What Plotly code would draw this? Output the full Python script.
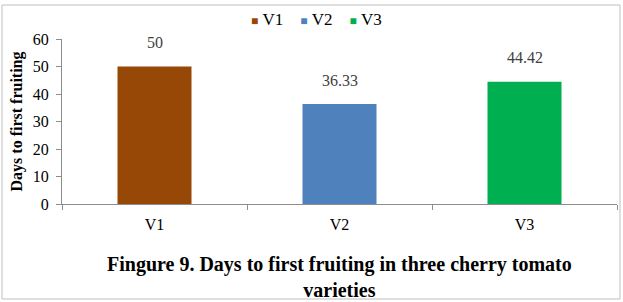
import plotly.graph_objects as go

categories = ["V1", "V2", "V3"]
values = [50, 36.33, 44.42]
value_labels = ["50", "36.33", "44.42"]
colors = ["#974706", "#4F81BD", "#00B050"]
y_ticks = [0, 10, 20, 30, 40, 50, 60]
y_title = "Days to first fruiting"
caption = "Fingure 9. Days to first fruiting in three cherry tomato<br>varieties"

FONT = "Liberation Serif, Times New Roman, serif"
W, H = 623, 302
ML, MR, MT, MB = 62, 6, 39, 98
pw, ph = W - ML - MR, H - MT - MB

fig = go.Figure()
for c, v, col in zip(categories, values, colors):
    fig.add_trace(go.Bar(x=[c], y=[v], name=c, marker=dict(color=col, line=dict(width=0)),
                         width=0.4, hoverinfo="skip", showlegend=False))

for c, v, lab in zip(categories, values, value_labels):
    fig.add_annotation(x=c, y=v, text=lab, showarrow=False, yanchor="middle", yshift=24,
                       font=dict(family=FONT, size=16, color="#404040"))

def px(x):
    return (x - ML) / pw

def py(y):
    return (H - MB - y) / ph

# outer border
fig.add_shape(type="rect", xref="paper", yref="paper", x0=px(2), x1=px(620), y0=py(299), y1=py(5),
              line=dict(color="#BFBFBF", width=1), layer="below")

# compact Excel-style legend built from the series names/colours
legend_text = "&nbsp;&nbsp;&nbsp;&nbsp;".join(
    "<span style='color:%s;font-size:12px'>■</span>&nbsp;%s" % (col, c)
    for c, col in zip(categories, colors))
fig.add_annotation(xref="paper", yref="paper", x=px(316), y=py(19), text=legend_text,
                   showarrow=False, xanchor="center", yanchor="middle",
                   font=dict(family=FONT, size=17, color="#000000"))

fig.add_annotation(xref="paper", yref="paper", x=0.5, y=py(277), text="<b>" + caption + "</b>",
                   showarrow=False, yanchor="middle", xanchor="center", align="center",
                   font=dict(family=FONT, size=20, color="#000000"))

fig.update_layout(
    width=W, height=H,
    margin=dict(l=ML, r=MR, t=MT, b=MB),
    paper_bgcolor="white", plot_bgcolor="white",
    barmode="group",
    showlegend=False,
    font=dict(family=FONT, size=16, color="#000000"),
)
fig.update_xaxes(type="category", showline=True, linecolor="#8C8C8C", linewidth=1,
                 ticks="outside", tickson="boundaries", ticklen=5, tickcolor="#8C8C8C",
                 showgrid=False, tickfont=dict(family=FONT, size=16, color="#000000"),
                 ticklabelstandoff=6, range=[-0.5, 2.5])
fig.update_yaxes(range=[0, 60], tickvals=y_ticks, showline=True, linecolor="#8C8C8C", linewidth=1,
                 ticks="outside", ticklen=5, tickcolor="#8C8C8C", showgrid=False, zeroline=False,
                 tickfont=dict(family=FONT, size=16, color="#000000"), ticklabelstandoff=4,
                 title=dict(text="<b>" + y_title + "</b>", standoff=6,
                            font=dict(family=FONT, size=16, color="#000000")))

fig.write_html("out.html")
